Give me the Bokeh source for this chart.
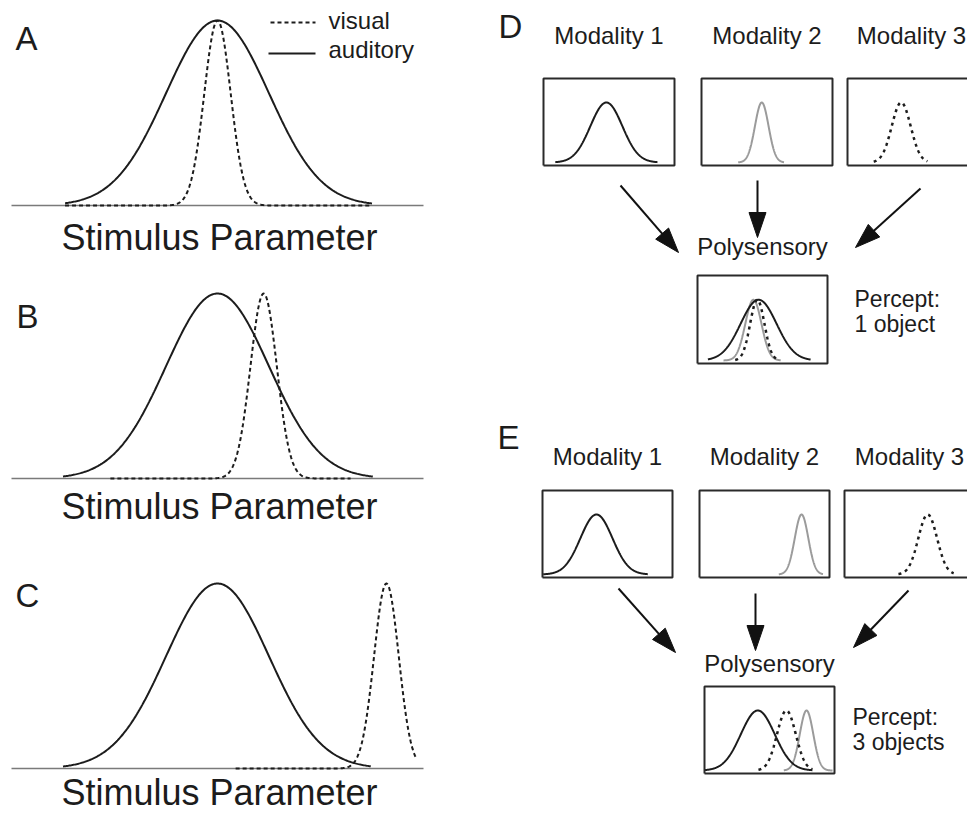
import numpy as np
from bokeh.plotting import figure
from bokeh.models import Range1d
from bokeh.core.properties import value
from bokeh.embed import file_html
from bokeh.resources import INLINE

# ---------------- data ----------------
# Panels A-C: tuning along the stimulus parameter (arbitrary units 0-100), peak height 1
abc_labels = ["A", "B", "C"]
auditory_mu = [50.0, 50.0, 50.0]
auditory_sigma = [12.5, 12.5, 12.5]
auditory_lo = [13.0, 12.5, 12.5]
auditory_hi = [87.5, 87.7, 87.2]
visual_mu = [50.0, 61.2, 91.0]
visual_sigma = [3.2, 3.2, 3.0]
visual_lo = [13.0, 24.0, 54.4]
visual_hi = [87.5, 82.3, 98.2]
legend_labels = ["visual", "auditory"]
axis_title = "Stimulus Parameter"

# Panels D-E (box units: x 0-10, peak height 1); order: modality 1, 2, 3
modality_labels = ["Modality 1", "Modality 2", "Modality 3"]
D_mu = [4.8, 4.6, 4.1]
D_sigma = [1.22, 0.52, 0.72]
D_lo = [0.9, 2.8, 2.0]
D_hi = [8.7, 6.3, 6.1]
D_poly_mu = [4.7, 4.3, 4.6]
D_poly_sigma = [1.38, 0.62, 0.55]
D_poly_lo = [0.8, 2.0, 2.9]
D_poly_hi = [8.7, 6.4, 6.2]
E_mu = [4.15, 7.85, 6.4]
E_sigma = [1.23, 0.52, 0.72]
E_lo = [0.05, 6.1, 4.15]
E_hi = [8.1, 9.5, 8.4]
E_poly_mu = [4.1, 7.85, 6.3]
E_poly_sigma = [1.3, 0.52, 0.72]
E_poly_lo = [0.0, 6.1, 4.15]
E_poly_hi = [8.3, 9.85, 8.3]
poly_label = "Polysensory"
percept_D = ["Percept:", "1 object"]
percept_E = ["Percept:", "3 objects"]

# ---------------- layout (canvas = reference pixels) ----------------
W, H = 967, 813
X0, Y0 = 0, 0
FONT = value("Liberation Sans")
INK = "#1c1c1c"
GRAY = "#9b9b9b"
TEXT_SHIFT = 0.365  # renderer places alphabetic baseline lower by ~this * font size

p = figure(width=W, height=H, x_range=Range1d(X0, X0 + W), y_range=Range1d(Y0 + H, Y0),
           min_border=0, toolbar_location=None, output_backend="svg",
           x_axis_location=None, y_axis_location=None)
p.outline_line_color = None
p.grid.visible = False
p.background_fill_color = "white"
p.border_fill_color = "white"

xr, yr = {}, {}


def add_space(name, px0, px1, d0, d1, py0, py1, e0, e1):
    sx = (d1 - d0) / (px1 - px0)
    xs = d0 - (px0 - X0) * sx
    xr[name] = Range1d(xs, xs + W * sx)
    sy = (e1 - e0) / (py0 - py1)
    ys = e0 - ((Y0 + H) - py0) * sy
    yr[name] = Range1d(ys, ys + H * sy)


def gauss(mu, sigma, lo, hi, n=300):
    x = np.linspace(lo, hi, n)
    return x, np.exp(-0.5 * ((x - mu) / sigma) ** 2)


def txt(x, y, s, size, align="left", color=INK):
    p.text(x=[x], y=[y - TEXT_SHIFT * size], text=[s], text_font=FONT,
           text_font_size=f"{size}px", text_align=align,
           text_baseline="alphabetic", text_color=color)


# panels A-C
abc_px = [(11, 423, 205, 20), (11, 423, 478, 293), (11, 423, 768, 583)]
label_pos = [(15, 50), (16, 328), (15, 607)]
title_base = [250, 519, 805]
for i, name in enumerate(abc_labels):
    x0, x1, yb, yt = abc_px[i]
    add_space(name, x0, x1, 0, 100, yb, yt, 0, 1)
    p.line([0, 100], [0, 0], x_range_name=name, y_range_name=name,
           line_color="#7a7a7a", line_width=1.5)
    vx, vy = gauss(visual_mu[i], visual_sigma[i], visual_lo[i], visual_hi[i])
    p.line(vx, vy, x_range_name=name, y_range_name=name,
           line_color=INK, line_width=2, line_dash="4 3")
    ax, ay = gauss(auditory_mu[i], auditory_sigma[i], auditory_lo[i], auditory_hi[i])
    p.line(ax, ay, x_range_name=name, y_range_name=name,
           line_color=INK, line_width=2)
    txt(label_pos[i][0], label_pos[i][1], name, 33)
    txt(219, title_base[i], axis_title, 36, align="center")

# legend in A
p.line([270, 315], [22, 22], line_color=INK, line_width=2, line_dash="4 3")
p.line([268, 315], [53, 53], line_color=INK, line_width=2)
txt(328, 29, legend_labels[0], 24)
txt(328, 58, legend_labels[1], 24)

styles = [dict(line_color=INK, line_width=2),
          dict(line_color=GRAY, line_width=2),
          dict(line_color=INK, line_width=2.5, line_dash="3 4")]


def small_box(name, rect, mus, sigmas, los, his, which):
    left, right, bottom, top = rect
    add_space(name, left, right, 0, 10, bottom, top, -0.05, 1.4)
    for k in which:
        gx, gy = gauss(mus[k], sigmas[k], los[k], his[k])
        p.line(gx, gy, x_range_name=name, y_range_name=name, **styles[k])
    p.line([0, 10, 10, 0, 0], [-0.05, -0.05, 1.4, 1.4, -0.05],
           x_range_name=name, y_range_name=name, line_color="#2a2a2a", line_width=2)


def arrow(xs, ys, xe, ye, L=25, w=8.5):
    d = np.array([xe - xs, ye - ys], dtype=float)
    u = d / np.hypot(*d)
    n = np.array([-u[1], u[0]])
    base = np.array([xe, ye]) - L * u
    p.line([xs, base[0] + 2 * u[0]], [ys, base[1] + 2 * u[1]], line_color="#111", line_width=2)
    c1 = base + w * n
    c2 = base - w * n
    p.patch([xe, c1[0], c2[0]], [ye, c1[1], c2[1]], fill_color="#111", line_color="#111", line_width=1)


def diagram(tag, label_xy, mod_base, boxes, mus, sigmas, los, his,
            poly_rect, pmus, psigmas, plos, phis, poly_base, percept, percept_xy, arrows):
    txt(label_xy[0], label_xy[1], tag, 33)
    for k in range(3):
        rect = boxes[k]
        cx = min((rect[0] + rect[1]) / 2, W - 56)
        txt(cx, mod_base, modality_labels[k], 24, align="center")
        small_box(f"{tag}{k}", rect, mus, sigmas, los, his, [k])
    small_box(f"{tag}p", poly_rect, pmus, psigmas, plos, phis, [1, 2, 0])
    txt((poly_rect[0] + poly_rect[1]) / 2, poly_base, poly_label, 24, align="center")
    txt(percept_xy[0], percept_xy[1], percept[0], 23)
    txt(percept_xy[0], percept_xy[1] + 25, percept[1], 23)
    for a in arrows:
        arrow(*a)


diagram("D", (498, 38), 44,
        [(543, 674, 165, 78), (701, 832, 165, 78), (847, 978, 165, 78)],
        D_mu, D_sigma, D_lo, D_hi,
        (697, 827, 363, 275), D_poly_mu, D_poly_sigma, D_poly_lo, D_poly_hi,
        255, percept_D, (854, 307),
        [(620, 185, 678, 252), (757, 180, 757, 237), (920, 188, 855, 247)])

diagram("E", (497, 449), 465,
        [(542, 672, 577, 490), (699, 829, 577, 490), (844, 974, 577, 490)],
        E_mu, E_sigma, E_lo, E_hi,
        (704, 834, 773, 686), E_poly_mu, E_poly_sigma, E_poly_lo, E_poly_hi,
        672, percept_E, (852, 725),
        [(618, 588, 675, 652), (755, 593, 755, 650), (908, 590, 853, 647)])

p.extra_x_ranges = xr
p.extra_y_ranges = yr

open("out.html", "w").write(file_html(p, INLINE))
